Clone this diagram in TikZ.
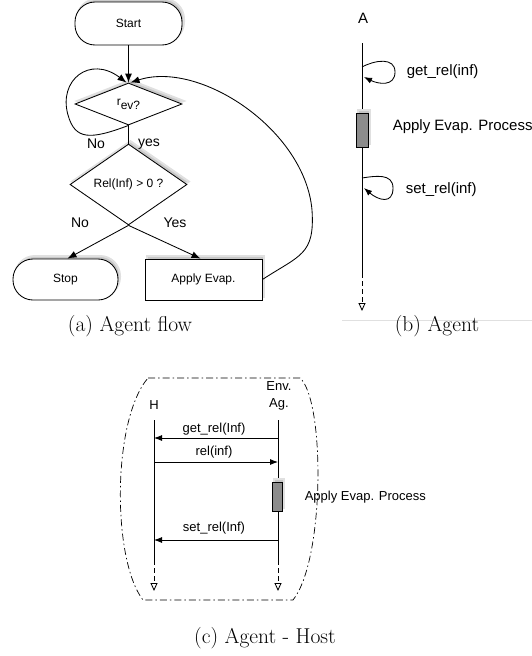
\documentclass[tikz,border=0pt]{standalone}
\usepackage{fontspec}
\newfontfamily\hv{Liberation Sans}
\usetikzlibrary{arrows.meta,shapes.geometric,shadows}
\begin{document}
\begin{tikzpicture}[x=1pt,y=-1pt,line width=0.85pt,
  sh/.style={drop shadow={shadow xshift=2pt,shadow yshift=3pt,fill=black!22,draw=black!12,line width=2pt,opacity=1}},
  boxfont/.style={font=\hv\fontsize{12}{14}\selectfont},
  term/.style={draw,fill=white,rounded corners=20pt,inner sep=0pt,boxfont,sh},
  proc/.style={draw,fill=white,inner sep=0pt,boxfont,sh},
  dec/.style={draw,fill=white,diamond,inner sep=0pt,boxfont,sh},
  arr/.style={-{Latex[length=9pt,width=7pt]}},
  arrs/.style={-{Latex[length=8pt,width=6pt]}},
  lbl/.style={font=\hv\fontsize{14}{16}\selectfont},
  btxt/.style={font=\hv\fontsize{15}{17}\selectfont},
  ctxt/.style={font=\hv\fontsize{13}{17}\selectfont},
  lifeend/.style={dashed,dash pattern=on 5pt off 3pt,-{Triangle[open,length=8pt,width=7pt]}},
  act/.style={draw,fill=black!45,inner sep=0pt,sh},
  captxt/.style={font=\fontsize{21.5}{25}\selectfont,anchor=base}]
\useasboundingbox (0,0) rectangle (532,656);

% ---------------- panel (a)
\node[term,minimum width=107pt,minimum height=43pt] (start) at (128.5,23.5) {Start};
\node[dec,minimum width=107pt,minimum height=42pt] (rev) at (128.5,104) {r\raisebox{-4pt}{ev?}};
\node[dec,minimum width=117pt,minimum height=41pt] (rel) at (128.5,184.5) {Rel(Inf) > 0 ?};
\node[term,minimum width=105pt,minimum height=41pt] (stop) at (65.5,279.5) {Stop};
\node[proc,minimum width=117pt,minimum height=41pt] (apply) at (203.5,279.5) {Apply Evap.};

\draw[arr] (start) -- (rev);
\draw (rev) -- (rel);
\draw[arr] (rel.south) -- ([xshift=2pt]stop.north);
\draw[arr] (rel.south) -- ([xshift=-3pt]apply.north);
\draw[arr] (rev.south) .. controls (90,140) and (75,140) .. (68,115)
  .. controls (58,80) and (90,55) .. ([xshift=-2pt]rev.north);
\draw[arr] (apply.east) .. controls (300,255) and (315,255) .. (312,210)
  .. controls (305,130) and (200,60) .. ([xshift=2pt]rev.north);

\node[lbl] (no1) at (96,144) {No};
\node[lbl] (yes1) at (149,144) {yes};
\node[lbl] (no2) at (80,223) {No};
\node[lbl] (yes2) at (175,223) {Yes};

\node[captxt] (capa) at (130,331) {(a) Agent flow};

% ---------------- panel (b)
\node[btxt] (A) at (363,18) {A};
\coordinate (Atop) at (362,43);
\coordinate (Amid) at (362,273);
\coordinate (Aend) at (362,311);
\draw (Atop) -- (Amid);
\draw[lifeend] (Amid) -- (Aend);
\node[act,minimum width=12pt,minimum height=34pt] (Aact) at (362,130) {};
\coordinate (g1s) at (362,67);
\coordinate (g1e) at (364,77);
\draw[arrs] (g1s) .. controls (375,60) and (395,57) .. (395,72)
  .. controls (395,87) and (378,84) .. (g1e);
\coordinate (s1s) at (362,178);
\coordinate (s1e) at (364,188);
\draw[arrs] (s1s) .. controls (375,176) and (393,173) .. (393,188)
  .. controls (393,205) and (378,200) .. (s1e);
\node[btxt,anchor=west] (getb) at (403,72) {get\_rel(inf)};
\node[btxt,anchor=west] (appb) at (389,127) {Apply Evap. Process};
\node[btxt,anchor=west] (setb) at (402,190) {set\_rel(inf)};
\coordinate (lnl) at (342,320);
\coordinate (lnr) at (532,320);
\draw[black!12,line width=0.7pt] (lnl) -- (lnr);
\node[captxt] (capb) at (437,331) {(b) Agent};

% ---------------- panel (c)
\draw[line width=0.7pt,dash pattern=on 7pt off 3pt on 1.5pt off 3pt]
  (148,378) -- (300,378) .. controls (325,400) and (325,560) .. (293,600)
  -- (143,600) .. controls (112,560) and (112,420) .. cycle;
\node[ctxt] (H) at (154,405) {H};
\node[ctxt,align=center] (Ag) at (279,396) {Env.\\Ag.};
\coordinate (Htop) at (154,420);
\coordinate (Hmid) at (154,560);
\coordinate (Hend) at (154,591);
\coordinate (Gtop) at (278,420);
\coordinate (Gmid) at (278,560);
\coordinate (Gend) at (278,591);
\draw (Htop) -- (Hmid);
\draw[lifeend] (Hmid) -- (Hend);
\draw (Gtop) -- (Gmid);
\draw[lifeend] (Gmid) -- (Gend);
\node[act,minimum width=10pt,minimum height=29pt] (Gact) at (277,496.5) {};
\coordinate (h1) at (154,438);
\coordinate (g1) at (278,438);
\coordinate (h2) at (154,462);
\coordinate (g2) at (278,462);
\coordinate (h3) at (154,540);
\coordinate (g3) at (278,540);
\draw[arrs] (g1) -- (h1);
\draw[arrs] (h2) -- (g2);
\draw[arrs] (g3) -- (h3);
\node[ctxt] (getc) at (214,429) {get\_rel(Inf)};
\node[ctxt] (relc) at (214,452) {rel(inf)};
\node[ctxt] (setc) at (214,528) {set\_rel(Inf)};
\node[ctxt,anchor=west] (appc) at (301,497) {Apply Evap. Process};
\node[captxt] (capc) at (265,643) {(c) Agent - Host};
\end{tikzpicture}
\end{document}
